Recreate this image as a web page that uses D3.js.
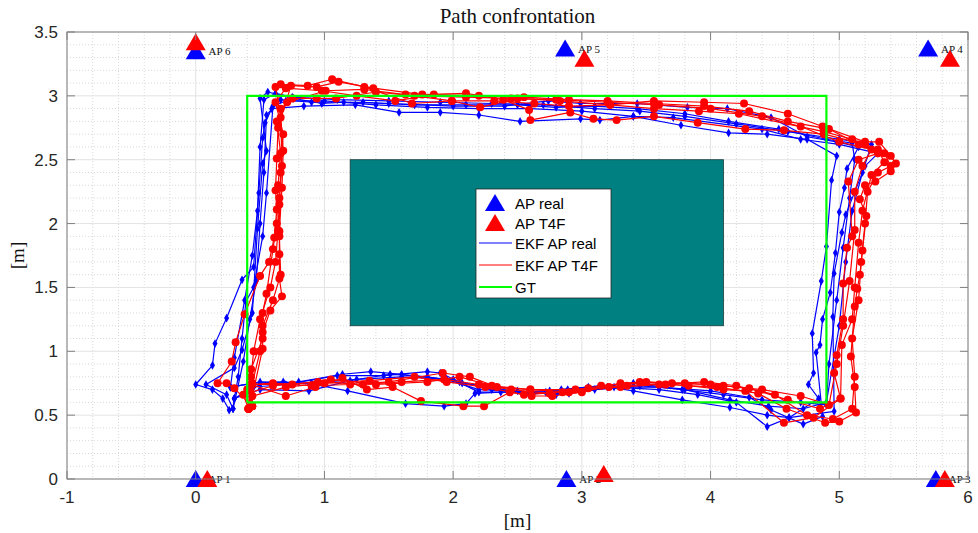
<!DOCTYPE html>
<html>
<head>
<meta charset="utf-8">
<script src="https://cdn.jsdelivr.net/npm/d3@7/dist/d3.min.js"></script>
<style>
  body { margin: 0; background: #fff; }
  .tick-label { font-family: "Liberation Sans", Arial, sans-serif; font-size: 17px; fill: #262626; }
  .serif { font-family: "Liberation Serif", "DejaVu Serif", serif; fill: #111; }
  .legend-text { font-family: "Liberation Sans", Arial, sans-serif; font-size: 15px; fill: #000; }
</style>
</head>
<body>
<svg id="chart" width="978" height="533"></svg>
<script>

// ---- data ----
var xTicks = [-1, 0, 1, 2, 3, 4, 5, 6];
var yTicks = [0, 0.5, 1, 1.5, 2, 2.5, 3, 3.5];

var apNames = ["AP 1", "AP 2", "AP 3", "AP 4", "AP 5", "AP 6"];
var apReal = [[0, 0], [2.88, 0], [5.75, 0], [5.69, 3.37], [2.87, 3.37], [0, 3.35]];
var apT4F  = [[0.09, 0], [3.17, 0.04], [5.82, 0], [5.86, 3.29], [3.02, 3.29], [0, 3.42]];

// GT rectangle and the obstacle, corners in metres
var gtPath = [[0.4, 0.6], [4.9, 0.6], [4.9, 3.0], [0.4, 3.0], [0.4, 0.6]];
var obstacle = { x0: 1.2, x1: 4.1, y0: 1.2, y1: 2.5 };

// EKF with real AP positions, one array per lap
var blueLap1 = [[0.27,0.72],[0.45,0.75],[0.68,0.76],[0.92,0.74],[1.18,0.69],[1.63,0.59],[1.93,0.57],[2.10,0.59],[2.17,0.67],[2.37,0.68],[2.72,0.68],[2.84,0.70],[3.14,0.73],[3.40,0.69],[3.78,0.62],[4.15,0.56],[4.44,0.50],[4.61,0.48],[4.84,0.63],[4.76,0.74],[4.80,0.83],[4.79,1.14],[4.86,1.55],[4.90,1.82],[4.94,2.34],[4.98,2.53],[4.75,2.66],[4.44,2.70],[4.14,2.71],[3.77,2.77],[3.40,2.84],[3.14,2.81],[2.99,2.82],[2.52,2.80],[2.20,2.85],[1.90,2.87],[1.58,2.87],[1.24,2.93],[0.84,2.92],[0.59,2.90],[0.54,2.79],[0.52,2.67],[0.49,2.24],[0.45,1.66],[0.36,1.56],[0.24,1.26],[0.15,1.06],[0.13,0.89],[0.0,0.74],[0.13,0.70],[0.21,0.63],[0.26,0.54]];
var blueLap2 = [[0.29,0.55],[0.30,0.63],[0.45,0.72],[0.70,0.74],[1.10,0.81],[1.46,0.81],[1.80,0.84],[1.90,0.83],[2.07,0.75],[2.30,0.72],[2.59,0.66],[2.89,0.70],[3.20,0.72],[3.60,0.72],[4.00,0.69],[4.30,0.64],[4.47,0.54],[4.72,0.43],[4.87,0.49],[4.82,0.99],[4.85,1.05],[4.87,1.25],[4.93,1.46],[4.97,1.77],[5.00,2.09],[5.04,2.28],[5.06,2.43],[5.15,2.60],[4.98,2.64],[4.75,2.68],[4.47,2.83],[4.13,2.90],[3.82,2.91],[3.43,2.94],[2.99,2.94],[2.74,2.96],[2.40,2.92],[2.00,2.92],[1.50,2.94],[1.15,2.95],[0.98,2.94],[0.76,2.98],[0.56,3.03],[0.50,2.98],[0.55,2.57],[0.52,2.47],[0.48,1.96],[0.44,1.30],[0.36,1.01],[0.30,0.87],[0.08,0.74],[0.24,0.66],[0.29,0.55]];
var blueLap3 = [[0.30,0.63],[0.50,0.70],[0.88,0.69],[1.20,0.77],[1.51,0.82],[1.80,0.80],[2.05,0.76],[2.30,0.70],[2.60,0.67],[2.90,0.67],[3.25,0.72],[3.60,0.70],[3.90,0.66],[4.20,0.60],[4.44,0.41],[4.61,0.48],[4.96,0.53],[4.95,1.27],[4.96,1.61],[5.02,1.93],[5.05,2.07],[5.20,2.45],[5.30,2.55],[5.00,2.62],[4.70,2.66],[4.40,2.74],[3.71,2.83],[3.40,2.84],[3.00,2.88],[2.60,2.90],[2.20,2.90],[1.80,2.91],[1.40,2.93],[1.00,2.96],[0.70,2.96],[0.60,2.92],[0.55,2.24],[0.52,1.90],[0.45,1.50],[0.39,1.39],[0.36,1.10],[0.33,0.80],[0.30,0.63]];
var blueLap4 = [[0.30,0.63],[0.50,0.74],[0.80,0.76],[1.14,0.82],[1.36,0.84],[1.60,0.82],[1.95,0.78],[2.20,0.70],[2.50,0.69],[2.80,0.66],[3.10,0.70],[3.45,0.73],[3.80,0.70],[4.15,0.62],[4.45,0.57],[4.72,0.55],[4.90,0.60],[5.00,1.20],[5.05,1.70],[5.10,2.10],[5.18,2.40],[5.25,2.62],[5.00,2.66],[4.60,2.72],[4.20,2.78],[3.80,2.84],[3.45,2.88],[3.10,2.90],[2.70,2.93],[2.30,2.94],[1.90,2.95],[1.50,2.96],[1.10,2.97],[0.75,2.99],[0.62,3.02],[0.53,2.97],[0.50,2.60],[0.48,2.10],[0.44,1.75],[0.38,1.40],[0.30,0.95],[0.27,0.72]];
var blueLap5 = [[0.27,0.72],[0.50,0.76],[0.90,0.75],[1.25,0.78],[1.60,0.80],[2.00,0.78],[2.20,0.68],[2.45,0.68],[2.75,0.69],[3.05,0.72],[3.40,0.75],[3.78,0.70],[4.10,0.66],[4.40,0.62],[4.70,0.60],[4.90,0.58],[4.92,0.90],[4.98,1.40],[5.03,1.81],[5.08,2.20],[5.12,2.50],[5.10,2.63],[4.90,2.66],[4.53,2.74],[4.14,2.80],[3.80,2.86],[3.43,2.90],[3.10,2.92],[2.80,2.91],[2.50,2.93],[2.10,2.93],[1.70,2.93],[1.30,2.95],[0.90,2.95],[0.66,2.97],[0.55,2.85],[0.53,2.40],[0.50,2.00],[0.47,1.55],[0.42,1.25],[0.37,0.92],[0.29,0.55]];

// EKF with T4F AP positions
var redLap1 = [[0.43,0.74],[0.70,0.65],[0.93,0.72],[1.14,0.79],[1.33,0.70],[1.53,0.72],[1.75,0.61],[2.08,0.57],[2.24,0.57],[2.44,0.68],[2.61,0.65],[2.77,0.65],[3.00,0.68],[3.30,0.75],[3.65,0.74],[4.05,0.72],[4.37,0.67],[4.59,0.55],[4.89,0.44],[5.00,0.45],[5.13,0.52],[5.12,0.72],[5.09,0.96],[5.12,1.35],[5.14,1.49],[5.16,1.60],[5.18,1.79],[5.21,2.06],[5.16,2.19],[5.20,2.30],[5.28,2.33],[5.40,2.41],[5.44,2.47],[5.40,2.53],[5.31,2.64],[5.20,2.64],[4.87,2.76],[4.60,2.86],[4.26,2.94],[3.95,2.95],[3.56,2.96],[3.22,2.93],[2.90,2.92],[2.63,2.94],[2.32,2.96],[1.99,2.96],[1.68,2.94],[1.31,3.07],[1.06,3.13],[0.87,3.08],[0.66,3.09],[0.62,3.07],[0.66,2.83],[0.68,2.57],[0.67,2.28],[0.65,1.94],[0.65,1.76],[0.65,1.57],[0.67,1.43],[0.58,1.32],[0.52,1.15],[0.52,1.02],[0.44,0.65],[0.41,0.55],[0.43,0.74]];
var redLap2 = [[0.44,0.57],[0.44,0.74],[0.60,0.75],[0.90,0.73],[1.20,0.74],[1.50,0.76],[1.92,0.83],[2.13,0.80],[2.34,0.72],[2.60,0.70],[2.90,0.68],[3.21,0.72],[3.50,0.76],[3.83,0.73],[4.10,0.70],[4.27,0.69],[4.57,0.44],[4.80,0.48],[5.01,0.63],[4.96,0.83],[4.98,0.97],[5.03,1.25],[5.03,1.53],[5.06,1.81],[5.10,1.90],[5.07,2.33],[5.15,2.50],[5.30,2.55],[5.20,2.62],[4.88,2.70],[4.57,2.73],[4.27,2.74],[3.90,2.79],[3.56,2.84],[3.27,2.81],[3.09,2.82],[2.91,2.87],[2.60,2.81],[2.59,2.89],[2.39,2.97],[2.10,3.02],[1.76,3.01],[1.38,3.06],[1.11,3.11],[0.94,3.07],[0.74,3.08],[0.64,2.75],[0.63,2.51],[0.62,2.26],[0.63,2.11],[0.61,1.89],[0.57,1.70],[0.50,1.59],[0.38,1.29],[0.31,1.07],[0.28,0.92],[0.17,0.75],[0.24,0.75],[0.30,0.71],[0.44,0.57]];
var redLap3 = [[0.41,0.55],[0.37,0.66],[0.60,0.73],[0.95,0.76],[1.30,0.74],[1.60,0.76],[1.93,0.78],[2.20,0.74],[2.45,0.70],[2.75,0.67],[3.05,0.71],[3.35,0.73],[3.70,0.75],[4.00,0.74],[4.30,0.71],[4.60,0.62],[4.85,0.55],[5.01,0.63],[5.02,1.05],[5.10,1.25],[5.12,1.50],[5.15,1.85],[5.18,2.10],[5.25,2.38],[5.35,2.48],[5.30,2.58],[5.10,2.66],[4.88,2.72],[4.22,2.86],[3.91,2.88],[3.56,2.90],[3.22,2.93],[2.83,2.96],[2.50,2.98],[2.21,2.91],[1.99,2.96],[1.63,3.01],[1.31,3.05],[1.01,3.04],[0.71,2.95],[0.63,2.80],[0.66,2.55],[0.64,2.30],[0.63,2.00],[0.60,1.80],[0.55,1.45],[0.52,1.30],[0.52,1.10],[0.43,0.86],[0.40,0.70],[0.41,0.55]];
var redLap4 = [[0.41,0.55],[0.44,0.65],[0.70,0.72],[1.00,0.75],[1.35,0.77],[1.70,0.80],[1.95,0.76],[2.25,0.72],[2.55,0.66],[2.85,0.68],[3.15,0.73],[3.45,0.76],[3.80,0.75],[4.10,0.73],[4.40,0.70],[4.70,0.65],[4.92,0.58],[4.98,0.90],[5.03,1.20],[5.08,1.55],[5.12,1.95],[5.12,2.25],[5.18,2.45],[5.25,2.58],[5.00,2.64],[4.70,2.76],[4.40,2.84],[4.00,2.90],[3.60,2.93],[3.20,2.95],[2.80,2.97],[2.45,2.98],[2.10,2.99],[1.70,3.00],[1.40,3.03],[1.09,2.98],[0.94,2.98],[0.75,2.98],[0.66,2.90],[0.67,2.45],[0.65,2.20],[0.64,1.95],[0.62,1.70],[0.58,1.50],[0.50,1.25],[0.45,1.00],[0.43,0.80],[0.41,0.55]];
var redLap5 = [[0.43,0.57],[0.43,0.74],[0.75,0.74],[1.05,0.78],[1.40,0.74],[1.80,0.76],[2.05,0.80],[2.30,0.73],[2.60,0.70],[2.95,0.70],[3.30,0.72],[3.60,0.74],[3.95,0.76],[4.20,0.73],[4.50,0.66],[4.75,0.50],[4.95,0.47],[5.10,0.55],[5.12,0.80],[5.10,1.10],[5.15,1.40],[5.17,1.70],[5.20,2.00],[5.22,2.25],[5.30,2.40],[5.40,2.45],[5.35,2.55],[5.15,2.62],[4.92,2.74],[4.60,2.80],[4.30,2.88],[3.95,2.92],[3.56,2.94],[3.20,2.96],[2.90,2.97],[2.55,2.99],[2.20,3.00],[1.85,3.01],[1.55,2.96],[1.25,3.00],[0.98,3.04],[0.70,3.06],[0.62,2.95],[0.68,2.70],[0.66,2.40],[0.65,2.15],[0.65,1.90],[0.66,1.60],[0.60,1.40],[0.52,1.20],[0.50,1.00],[0.44,0.75],[0.43,0.57]];

var blueLaps = [blueLap1, blueLap2, blueLap3, blueLap4, blueLap5];
var redLaps = [redLap1, redLap2, redLap3, redLap4, redLap5];

var legendLabels = ["AP real", "AP T4F", "EKF AP real", "EKF AP T4F", "GT"];

// ---- chart ----
var svgWidth = 978, svgHeight = 533;
var margin = { top: 32, right: 10, bottom: 54, left: 67 };
var width = svgWidth - margin.left - margin.right;
var height = svgHeight - margin.top - margin.bottom;

var BLUE = "#0000ff", RED = "#ff0000", GREEN = "#00ff00";

var svg = d3.select("#chart");
var g = svg.append("g")
    .attr("transform", "translate(" + margin.left + "," + margin.top + ")");

var x = d3.scaleLinear().domain([-1, 6]).range([0, width]);
var y = d3.scaleLinear().domain([0, 3.5]).range([height, 0]);

// minor grid (dotted)
g.append("g").selectAll("line.mx")
    .data(d3.range(-1, 6.001, 0.2).filter(function(v) { return Math.abs(v - Math.round(v)) > 0.01; }))
    .enter().append("line")
    .attr("x1", function(d) { return x(d); }).attr("x2", function(d) { return x(d); })
    .attr("y1", 0).attr("y2", height)
    .attr("stroke", "#d9d9d9").attr("stroke-dasharray", "1,2");
g.append("g").selectAll("line.my")
    .data(d3.range(0, 3.501, 0.1).filter(function(v) { return Math.abs(v * 2 - Math.round(v * 2)) > 0.01; }))
    .enter().append("line")
    .attr("y1", function(d) { return y(d); }).attr("y2", function(d) { return y(d); })
    .attr("x1", 0).attr("x2", width)
    .attr("stroke", "#d9d9d9").attr("stroke-dasharray", "1,2");

// major grid
g.append("g").selectAll("line")
    .data(xTicks).enter().append("line")
    .attr("x1", function(d) { return x(d); }).attr("x2", function(d) { return x(d); })
    .attr("y1", 0).attr("y2", height)
    .attr("stroke", "#e3e3e3");
g.append("g").selectAll("line")
    .data(yTicks).enter().append("line")
    .attr("y1", function(d) { return y(d); }).attr("y2", function(d) { return y(d); })
    .attr("x1", 0).attr("x2", width)
    .attr("stroke", "#e3e3e3");

// obstacle
g.append("rect")
    .attr("x", x(obstacle.x0))
    .attr("y", y(obstacle.y1))
    .attr("width", x(obstacle.x1) - x(obstacle.x0))
    .attr("height", y(obstacle.y0) - y(obstacle.y1))
    .attr("fill", "#008080")
    .attr("stroke", "#1a3c3c")
    .attr("stroke-width", 0.8);

var line = d3.line()
    .x(function(d) { return x(d[0]); })
    .y(function(d) { return y(d[1]); });

function drawLaps(laps, color, marker) {
    laps.forEach(function(lap) {
        g.append("path")
            .datum(lap)
            .attr("fill", "none")
            .attr("stroke", color)
            .attr("stroke-width", 1.2)
            .attr("stroke-linejoin", "round")
            .attr("d", line);
        g.append("g").selectAll("path")
            .data(lap).enter().append("path")
            .attr("transform", function(d) { return "translate(" + x(d[0]) + "," + y(d[1]) + ")"; })
            .attr("d", marker)
            .attr("fill", color);
    });
}

var diamond = d3.symbol().type(d3.symbolDiamond).size(22)();
var dot = d3.symbol().type(d3.symbolCircle).size(50)();
drawLaps(blueLaps, BLUE, diamond);
drawLaps(redLaps, RED, dot);

// GT
g.append("path")
    .datum(gtPath)
    .attr("fill", "none")
    .attr("stroke", GREEN)
    .attr("stroke-width", 2.2)
    .attr("d", line);

// access points
var tri = "M0,-9L10,8L-10,8Z";
g.append("g").selectAll("path")
    .data(apReal).enter().append("path")
    .attr("transform", function(d) { return "translate(" + x(d[0]) + "," + y(d[1]) + ")"; })
    .attr("d", tri).attr("fill", BLUE);
g.append("g").selectAll("text")
    .data(apReal).enter().append("text")
    .attr("class", "serif")
    .attr("x", function(d) { return x(d[0] + 0.1); })
    .attr("y", function(d) { return y(d[1]) + 4; })
    .attr("font-size", "11px")
    .text(function(d, i) { return apNames[i]; });
g.append("g").selectAll("path")
    .data(apT4F).enter().append("path")
    .attr("transform", function(d) { return "translate(" + x(d[0]) + "," + y(d[1]) + ")"; })
    .attr("d", tri).attr("fill", RED);

// axes box
var axisColor = "#808080";
g.append("rect")
    .attr("width", width).attr("height", height)
    .attr("fill", "none").attr("stroke", axisColor).attr("stroke-width", 1);

xTicks.forEach(function(t) {
    g.append("line").attr("x1", x(t)).attr("x2", x(t)).attr("y1", height).attr("y2", height - 8).attr("stroke", axisColor);
    g.append("line").attr("x1", x(t)).attr("x2", x(t)).attr("y1", 0).attr("y2", 8).attr("stroke", axisColor);
    g.append("text").attr("class", "tick-label")
        .attr("x", x(t)).attr("y", height + 24)
        .attr("text-anchor", "middle")
        .text(t);
});
yTicks.forEach(function(t) {
    g.append("line").attr("x1", 0).attr("x2", 8).attr("y1", y(t)).attr("y2", y(t)).attr("stroke", axisColor);
    g.append("line").attr("x1", width).attr("x2", width - 8).attr("y1", y(t)).attr("y2", y(t)).attr("stroke", axisColor);
    g.append("text").attr("class", "tick-label")
        .attr("x", -9).attr("y", y(t) + 6)
        .attr("text-anchor", "end")
        .text(t);
});

// title and axis labels
svg.append("text").attr("class", "serif")
    .attr("x", margin.left + width / 2).attr("y", 23)
    .attr("text-anchor", "middle").attr("font-size", "21px")
    .text("Path confrontation");
svg.append("text").attr("class", "serif")
    .attr("x", margin.left + width / 2).attr("y", 527)
    .attr("text-anchor", "middle").attr("font-size", "19px")
    .text("[m]");
svg.append("text").attr("class", "serif")
    .attr("transform", "translate(24," + (margin.top + height / 2) + ") rotate(-90)")
    .attr("text-anchor", "middle").attr("font-size", "19px")
    .text("[m]");

// legend
var lg = svg.append("g").attr("transform", "translate(476,189)");
lg.append("rect").attr("width", 135).attr("height", 109)
    .attr("fill", "#fff").attr("stroke", "#262626").attr("stroke-width", 0.8);
var rowY = [14, 34, 54, 76, 98];
legendLabels.forEach(function(lbl, i) {
    var row = lg.append("g").attr("transform", "translate(0," + rowY[i] + ")");
    if (i < 2) {
        row.append("path").attr("transform", "translate(19,0)")
            .attr("d", tri).attr("fill", i === 0 ? BLUE : RED);
    } else {
        row.append("line").attr("x1", 3).attr("x2", 36).attr("y1", 0).attr("y2", 0)
            .attr("stroke", i === 2 ? BLUE : (i === 3 ? RED : GREEN))
            .attr("stroke-width", i === 4 ? 2 : 1);
    }
    row.append("text").attr("class", "legend-text")
        .attr("x", 39).attr("y", 5.5).text(lbl);
});
</script>
</body>
</html>
